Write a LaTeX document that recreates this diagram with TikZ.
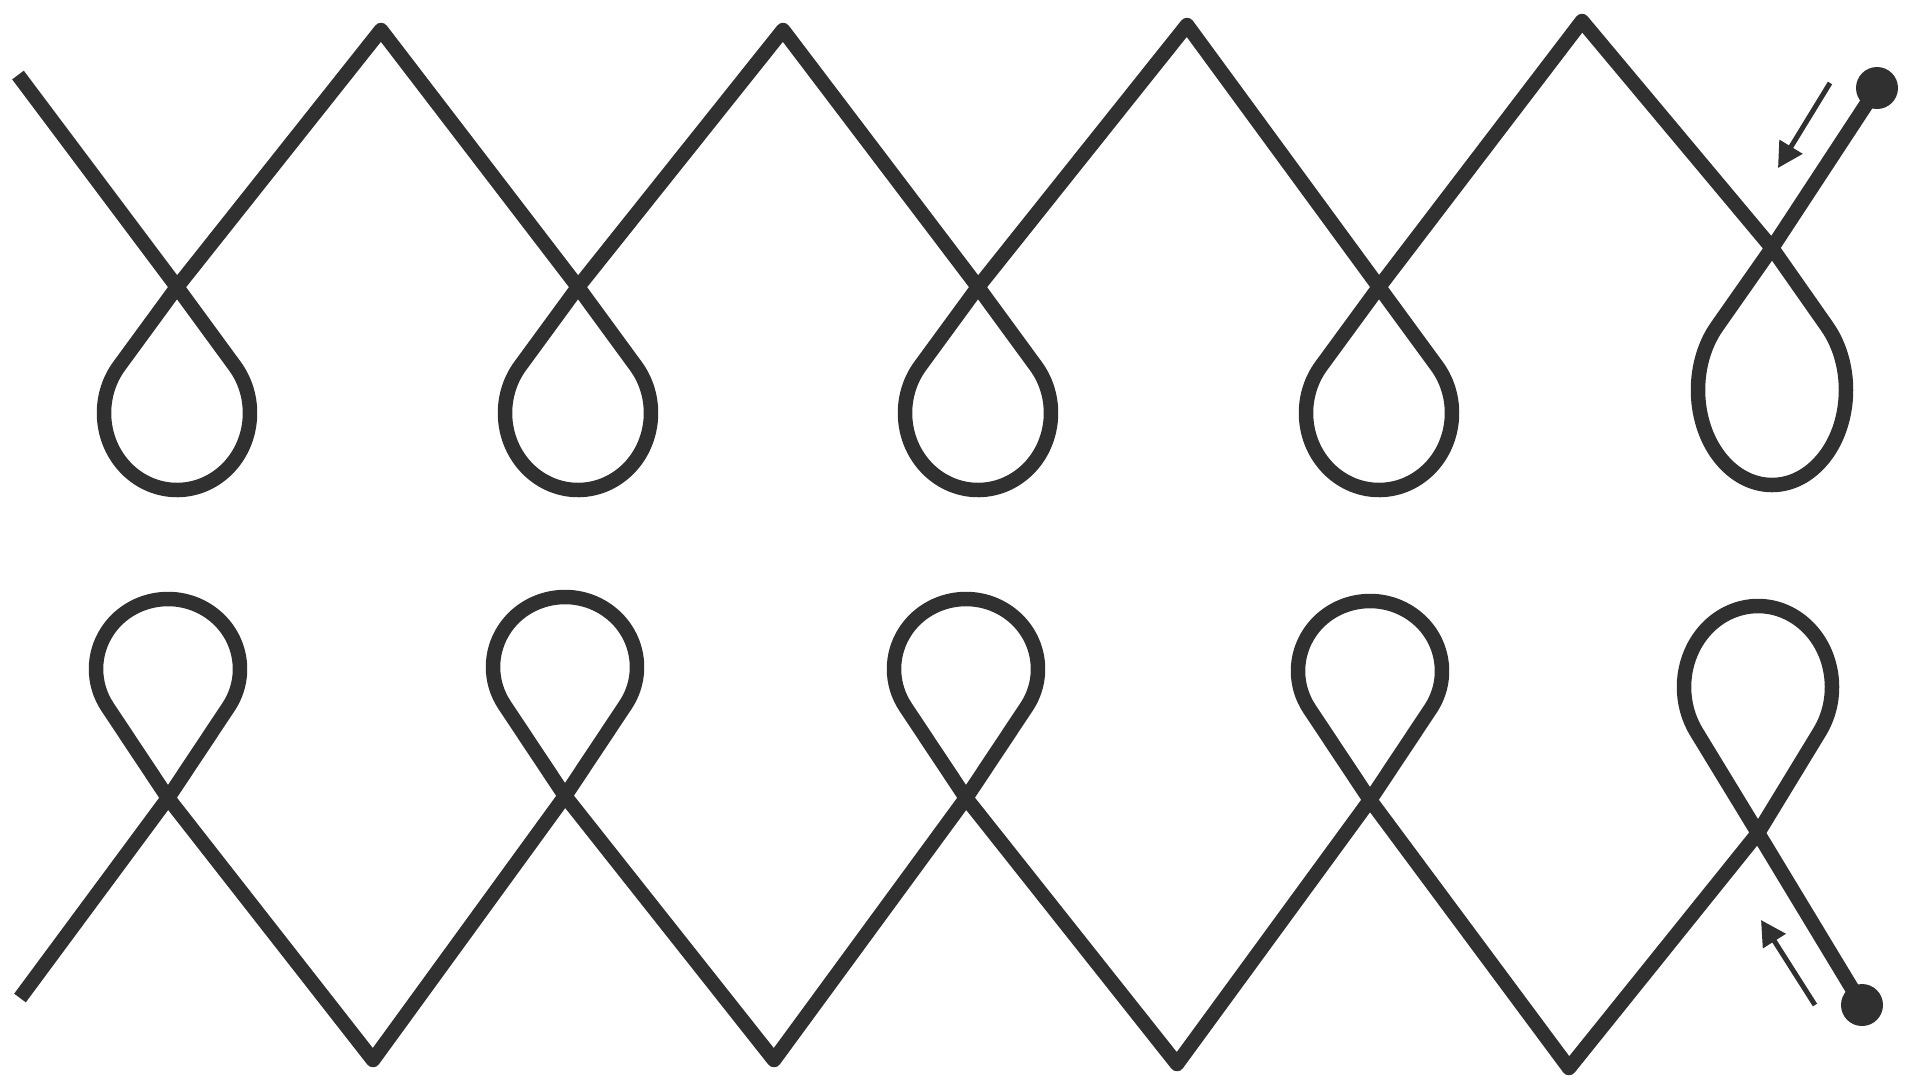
\documentclass[tikz,border=0pt]{standalone}
\usetikzlibrary{arrows.meta}
\definecolor{tinta}{HTML}{303030}
\begin{document}
\begin{tikzpicture}[
        x=0.1mm, y=-0.1mm,
        alambre/.style={draw=tinta, line width=1.45mm, line join=round, line cap=butt},
        extremo/.style={circle, fill=tinta, inner sep=0pt, minimum size=4.2mm},
        sentido/.style={-{Triangle[length=2.5mm, width=2.6mm]}, draw=tinta, fill=tinta, line width=0.5mm},
        % lazo: #1 = semieje x, #2 = semieje y, #3 = distancia (con signo) del cruce al centro
        lazo/.style n args={3}{insert path={
            -- ++({#1*sqrt(1-(#2/#3)^2)}, {#3-#2*#2/#3})
            arc[start angle={-asin(#2/#3)}, end angle={180*(#3/abs(#3))+asin(#2/#3)}, x radius=#1, y radius=#2]
            -- ++({#1*sqrt(1-(#2/#3)^2)}, {-(#3-#2*#2/#3)})}}
    ]
        \useasboundingbox (0,0) rectangle (1905,1083);

        % extremos del alambre
        \node[extremo] (finA) at (1877,88) {};
        \node[extremo] (finB) at (1862,1005) {};

        % fila superior
        \draw[alambre] (18,75)
            \foreach \cx/\cy/\px/\py in {177/287/381/30, 578/287/783/30, 978/287/1187/25, 1379/287/1582/21}
                { -- (\cx,\cy) [lazo={73}{77}{126}] -- (\px,\py) }
            -- (1772,248) [lazo={74}{95}{142}] -- (finA.center);

        % fila inferior
        \draw[alambre] (20,998)
            \foreach \cx/\cy/\px/\py in {168/798/373/1060, 565/796/774/1060, 966/798/1177/1064, 1370/800/1569/1068}
                { -- (\cx,\cy) [lazo={72}{70}{-129}] -- (\px,\py) }
            -- (1758,833) [lazo={74}{81}{-146}] -- (finB.center);

        % sentido de recorrido
        \coordinate (flA1) at (1830,83);
        \coordinate (flA2) at (1778,168);
        \coordinate (flB1) at (1815,1005);
        \coordinate (flB2) at (1761,920);
        \draw[sentido] (flA1) -- (flA2);
        \draw[sentido] (flB1) -- (flB2);
    \end{tikzpicture}
\end{document}
